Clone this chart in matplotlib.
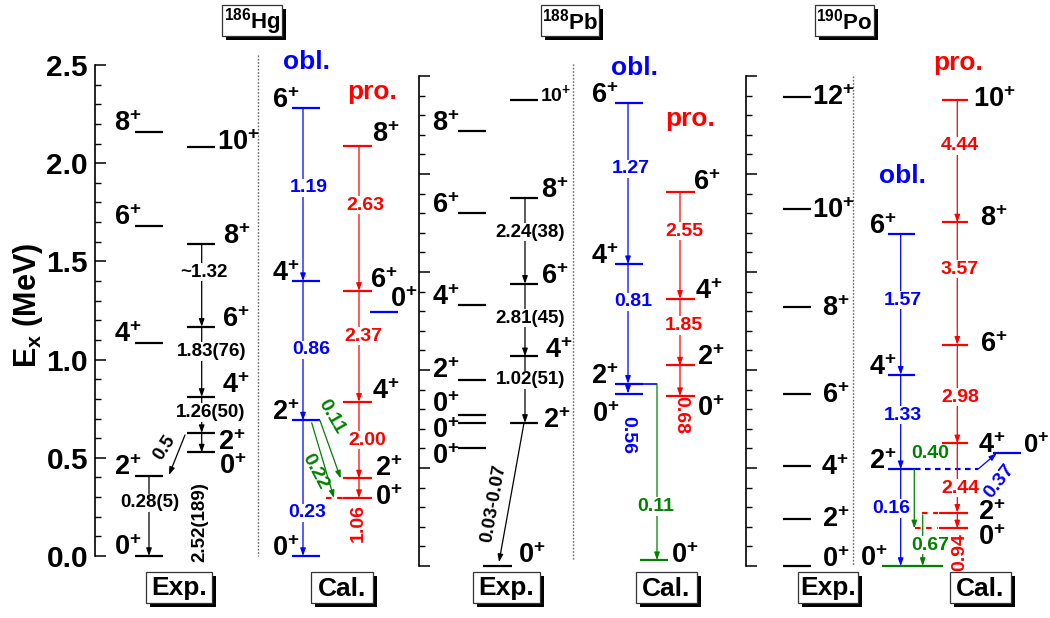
import matplotlib
matplotlib.use('Agg')
import matplotlib.pyplot as plt
from matplotlib.patches import Rectangle

plt.rcParams['font.family'] = ['Liberation Sans', 'DejaVu Sans']
plt.rcParams['font.weight'] = 'bold'
plt.rcParams['mathtext.fontset'] = 'custom'
plt.rcParams['mathtext.rm'] = 'Liberation Sans:bold'
plt.rcParams['mathtext.bf'] = 'Liberation Sans:bold'
plt.rcParams['mathtext.it'] = 'Liberation Sans:bold'

# ---------------- data (energies in MeV) ----------------
ytick_values = [0.0, 0.5, 1.0, 1.5, 2.0, 2.5]
ytick_labels = ['0.0', '0.5', '1.0', '1.5', '2.0', '2.5']

# 186Hg experiment
hg_expA_spin = [0, 2, 4, 6, 8]
hg_expA_E = [0.0, 0.405, 1.085, 1.68, 2.16]
hg_expB_spin = [0, 2, 4, 6, 8, 10]
hg_expB_E = [0.527, 0.626, 0.81, 1.167, 1.59, 2.085]
hg_expA_BE2 = ['0.28(5)']                      # 2 -> 0
hg_expB_BE2 = ['1.26(50)', '1.83(76)', '~1.32']  # 4->2, 6->4, 8->6
hg_inter_BE2 = '0.5'
hg_E0 = '2.52(189)'
# 186Hg calculation
hg_obl_spin = [0, 2, 4, 6]
hg_obl_E = [0.0, 0.69, 1.40, 2.28]
hg_obl_BE2 = ['0.23', '0.86', '1.19']
hg_pro_spin = [0, 2, 4, 6, 8]
hg_pro_E = [0.295, 0.395, 0.785, 1.35, 2.09]
hg_pro_BE2 = ['1.06', '2.00', '2.37', '2.63']
hg_obl0_E = 1.243
hg_cross_BE2 = ['0.11', '0.22']   # obl 2+ -> pro 2+, obl 2+ -> pro 0+

# 188Pb experiment
pb_expA_spin = [8, 6, 4, 2, 0, 0, 0]
pb_expA_E = [2.22, 1.80, 1.33, 0.95, 0.77, 0.73, 0.60]
pb_expB_spin = [0, 2, 4, 6, 8, 10]
pb_expB_E = [0.0, 0.73, 1.07, 1.44, 1.88, 2.38]
pb_expB_BE2 = ['0.03-0.07', '1.02(51)', '2.81(45)', '2.24(38)']
# 188Pb calculation
pb_obl_spin = [0, 2, 4, 6]
pb_obl_E = [0.88, 0.93, 1.54, 2.36]
pb_obl_BE2 = ['0.56', '0.81', '1.27']
pb_pro_spin = [0, 2, 4, 6]
pb_pro_E = [0.867, 1.023, 1.363, 1.908]
pb_pro_BE2 = ['0.68', '1.85', '2.55']
pb_gs_E = 0.03
pb_cross_BE2 = '0.11'

# 190Po experiment
po_exp_spin = [0, 2, 4, 6, 8, 10, 12]
po_exp_E = [0.0, 0.24, 0.51, 0.878, 1.32, 1.82, 2.393]
# 190Po calculation
po_gs_E = 0.0
po_obl_spin = [2, 4, 6]
po_obl_E = [0.494, 0.976, 1.694]
po_obl_BE2 = ['0.16', '1.33', '1.57']
po_pro_spin = [0, 2, 4, 6, 8, 10]
po_pro_E = [0.192, 0.272, 0.626, 1.129, 1.753, 2.378]
po_pro_BE2 = ['0.94', '2.44', '2.98', '3.57', '4.44']
po_obl0_E = 0.575
po_cross_BE2 = ['0.40', '0.67', '0.37']

# ---------------- layout ----------------
W, H = 1050, 618
BLUE, RED, GREEN = '#0000FF', '#FF0000', '#008000'
fig = plt.figure(figsize=(W / 100, H / 100), dpi=100)


def make_axes(xl, xr, y0, yt, labels):
    ax = fig.add_axes([xl / W, (H - y0) / H, (xr - xl) / W, (y0 - yt) / H])
    ax.set_xlim(xl, xr)
    ax.set_ylim(0, 2.5)
    ax.patch.set_alpha(0)
    for s in ['top', 'right', 'bottom']:
        ax.spines[s].set_visible(False)
    ax.spines['left'].set_linewidth(1.2)
    ax.set_xticks([])
    ax.set_yticks(ytick_values)
    ax.set_yticks([v / 10 for v in range(26)], minor=True)
    ax.tick_params(axis='y', which='major', direction='in', length=8, width=1.1, pad=5,
                   labelsize=21.5, labelleft=labels)
    ax.tick_params(axis='y', which='minor', direction='in', length=4, width=1.0)
    if labels:
        ax.set_yticklabels(ytick_labels, fontweight='bold')
    return ax


ax_hg = make_axes(95, 418, 556, 65, True)
ax_pb = make_axes(419, 745, 566, 76, False)
ax_po = make_axes(746, 1050, 566, 76, False)


def level(ax, x0, x1, E, color='k', lw=1.6, ls='-'):
    ax.plot([x0, x1], [E, E], color=color, lw=lw, ls=ls, solid_capstyle='butt', clip_on=False)


def arrow(ax, x0, E0, x1, E1, color='k', lw=0.9):
    ax.annotate('', xy=(x1, E1), xytext=(x0, E0),
                arrowprops=dict(arrowstyle='-|>,head_length=0.45,head_width=0.16', color=color,
                                lw=lw, shrinkA=0, shrinkB=0), annotation_clip=False)


def spin(ax, x, E, J, dx, dy, ha, fs=19.5, color='k'):
    ax.annotate(r'$\mathbf{%d}^{\mathbf{+}}$' % J, xy=(x, E), xytext=(dx, dy),
                textcoords='offset pixels', ha=ha, va='baseline', fontsize=fs, color=color,
                annotation_clip=False)


def tlabel(ax, x, E, s, color='k', fs=14, rot=0, bg=True):
    kw = dict(fc='white', ec='none', pad=0.6) if bg else None
    ax.text(x, E, s, color=color, fontsize=fs, ha='center', va='center', rotation=rot,
            rotation_mode='anchor', bbox=kw, clip_on=False, zorder=5)


def vline_dotted(ax, x, E0, E1):
    ax.plot([x, x], [E0, E1], color='#666666', lw=1.0, ls=(0, (1.2, 1.2)), clip_on=False)


# ======================= 186Hg =======================
ax = ax_hg
vline_dotted(ax, 258, 2.55, 0.0)
# exp band A
for J, E in zip(hg_expA_spin, hg_expA_E):
    level(ax, 135, 163, E)
    spin(ax, 135, E, J, 7, 1, 'right')
arrow(ax, 149, hg_expA_E[1], 149, hg_expA_E[0])
tlabel(ax, 150, 0.27, hg_expA_BE2[0], fs=13.5)
# exp band B
hgB_off = {0: (4, -22), 2: (3, -17), 4: (7, 4), 6: (7, 0), 8: (8, 0), 10: (2, -3)}
for J, E in zip(hg_expB_spin, hg_expB_E):
    level(ax, 187, 215, E)
    dx, dy = hgB_off[J]
    spin(ax, 215, E, J, dx, dy, 'left')
for i in range(4):
    arrow(ax, 201.7, hg_expB_E[i + 1], 201.7, hg_expB_E[i])
tlabel(ax, 211, 0.73, hg_expB_BE2[0], fs=13.5)
tlabel(ax, 212, 1.04, hg_expB_BE2[1], fs=13.5)
tlabel(ax, 204, 1.446, hg_expB_BE2[2], fs=13.5)
arrow(ax, 185, hg_expB_E[1] - 0.01, 169, hg_expA_E[1] + 0.008)
tlabel(ax, 165, 0.55, hg_inter_BE2, fs=13.5, rot=57, bg=False)
tlabel(ax, 200, 0.173, hg_E0, fs=13.5, rot=90, bg=False)
# calc oblate
for J, E in zip(hg_obl_spin, hg_obl_E):
    level(ax, 292, 320, E, BLUE)
    spin(ax, 292, E, J, 8, 0, 'right')
for i in range(3):
    arrow(ax, 303, hg_obl_E[i + 1], 303, hg_obl_E[i], BLUE)
tlabel(ax, 306.7, 0.219, hg_obl_BE2[0], BLUE)
tlabel(ax, 311, 1.049, hg_obl_BE2[1], BLUE)
tlabel(ax, 309, 1.874, hg_obl_BE2[2], BLUE)
# calc prolate
hgP_off = {0: (3, -7), 2: (3, 2), 4: (0, 3), 6: (-2, 3), 8: (0, 4)}
for J, E in zip(hg_pro_spin, hg_pro_E):
    level(ax, 343, 372, E, RED)
    dx, dy = hgP_off[J]
    spin(ax, 372, E, J, dx, dy, 'left')
level(ax, 326, 343, hg_pro_E[0], RED, ls=(0, (2.5, 2.5)))
for i in range(4):
    arrow(ax, 359, hg_pro_E[i + 1], 359, hg_pro_E[i], RED)
tlabel(ax, 358, 0.168, hg_pro_BE2[0], RED, rot=90, bg=False)
tlabel(ax, 367, 0.59, hg_pro_BE2[1], RED)
tlabel(ax, 363, 1.12, hg_pro_BE2[2], RED)
tlabel(ax, 365, 1.787, hg_pro_BE2[3], RED)
level(ax, 370, 398, hg_obl0_E, BLUE)
spin(ax, 390, hg_obl0_E, 0, 0, 5, 'left')
arrow(ax, 320, hg_obl_E[1], 340.7, hg_pro_E[1], GREEN)
arrow(ax, 311.7, hg_obl_E[1] - 0.012, 334, hg_pro_E[0], GREEN)
tlabel(ax, 331, 0.71, hg_cross_BE2[0], GREEN, rot=-60, bg=False)
tlabel(ax, 315, 0.43, hg_cross_BE2[1], GREEN, rot=-62, bg=False)
ax.text(307, 2.515, 'obl.', color=BLUE, fontsize=19, ha='center', va='center', clip_on=False)
ax.text(372, 2.36, 'pro.', color=RED, fontsize=19, ha='center', va='center', clip_on=False)

# ======================= 188Pb =======================
ax = ax_pb
vline_dotted(ax, 573, 2.56, 0.03)
pbA_dy = [0, 0, 0, 2, 3, -15, -16]
for J, E, dy in zip(pb_expA_spin, pb_expA_E, pbA_dy):
    level(ax, 458, 486, E)
    spin(ax, 458, E, J, 2, dy, 'right')
level(ax, 483, 512, pb_expB_E[0])
spin(ax, 512, pb_expB_E[0], 0, 6, 3, 'left')
pbB_off = {2: (5, -5), 4: (7, -2), 6: (3, 0), 8: (3, 0), 10: (2, -1)}
for J, E in zip(pb_expB_spin[1:], pb_expB_E[1:]):
    level(ax, 510, 538, E)
    dx, dy = pbB_off[J]
    spin(ax, 538, E, J, dx, dy, 'left', fs=14 if J == 10 else 19.5)
for i in range(1, 4):
    arrow(ax, 525, pb_expB_E[i + 1], 525, pb_expB_E[i])
arrow(ax, 524, pb_expB_E[1], 499, 0.02)
tlabel(ax, 494, 0.32, pb_expB_BE2[0], fs=13.5, rot=80, bg=False)
tlabel(ax, 531, 0.949, pb_expB_BE2[1], fs=13.5)
tlabel(ax, 530, 1.265, pb_expB_BE2[2], fs=13.5)
tlabel(ax, 530, 1.704, pb_expB_BE2[3], fs=13.5)
# calc oblate
pbO_dy = {0: -28, 2: 0, 4: 0, 6: 0}
for J, E in zip(pb_obl_spin, pb_obl_E):
    level(ax, 615, 643, E, BLUE)
    spin(ax, 615, E, J, 5 if J == 0 else 4, pbO_dy[J], 'right')
for i in range(3):
    arrow(ax, 628, pb_obl_E[i + 1], 628, pb_obl_E[i], BLUE)
tlabel(ax, 628, 0.668, pb_obl_BE2[0], BLUE, rot=270, bg=False)
tlabel(ax, 633, 1.347, pb_obl_BE2[1], BLUE)
tlabel(ax, 631, 2.026, pb_obl_BE2[2], BLUE)
level(ax, 643, 657, pb_obl_E[1], BLUE, lw=1.2)
# calc prolate
pbP_off = {0: (2, -20), 2: (2, 0), 4: (0, 0), 6: (-2, 2)}
for J, E in zip(pb_pro_spin, pb_pro_E):
    level(ax, 666, 695, E, RED)
    dx, dy = pbP_off[J]
    spin(ax, 695, E, J, dx, dy, 'left')
for i in range(3):
    arrow(ax, 680, pb_pro_E[i + 1], 680, pb_pro_E[i], RED)
tlabel(ax, 680.7, 0.77, pb_pro_BE2[0], RED, rot=270, bg=False)
tlabel(ax, 684, 1.227, pb_pro_BE2[1], RED)
tlabel(ax, 684, 1.709, pb_pro_BE2[2], RED)
# ground state + green transition
level(ax, 640, 668, pb_gs_E, GREEN)
spin(ax, 668, pb_gs_E, 0, 3, -3, 'left')
arrow(ax, 657, pb_obl_E[1], 657, pb_gs_E, GREEN)
tlabel(ax, 656, 0.303, pb_cross_BE2, GREEN)
ax.text(635, 2.54, 'obl.', color=BLUE, fontsize=19, ha='center', va='center', clip_on=False)
ax.text(690, 2.28, 'pro.', color=RED, fontsize=19, ha='center', va='center', clip_on=False)

# ======================= 190Po =======================
ax = ax_po
vline_dotted(ax, 853, 2.5, 0.0)
poE_off = {0: (11, -1), 2: (11, -8), 4: (10, -9), 6: (11, -9), 8: (11, -9), 10: (1, -9), 12: (1, -8)}
for J, E in zip(po_exp_spin, po_exp_E):
    level(ax, 783, 811, E)
    dx, dy = poE_off[J]
    spin(ax, 811, E, J, dx, dy, 'left')
# calc oblate
for J, E in zip(po_obl_spin, po_obl_E):
    level(ax, 888, 915, E, BLUE)
    spin(ax, 888, E, J, 9, 0, 'right')
level(ax, 882, 943, po_gs_E, GREEN)
spin(ax, 882, po_gs_E, 0, 6, 0, 'right')
arrow(ax, 900.7, po_obl_E[0], 900.7, po_gs_E, BLUE)
for i in range(2):
    arrow(ax, 900.7, po_obl_E[i + 1], 900.7, po_obl_E[i], BLUE)
tlabel(ax, 891.7, 0.294, po_obl_BE2[0], BLUE)
tlabel(ax, 903, 0.77, po_obl_BE2[1], BLUE)
tlabel(ax, 903, 1.357, po_obl_BE2[2], BLUE)
# calc prolate
poP_off = {0: (10, -17), 2: (10, -7), 4: (10, -10), 6: (12, -7), 8: (12, -4), 10: (5, -7)}
for J, E in zip(po_pro_spin, po_pro_E):
    level(ax, 939 if J in (0, 2) else 942, 968, E, RED)
    dx, dy = poP_off[J]
    spin(ax, 968, E, J, dx, dy, 'left')
level(ax, 921.7, 938, po_pro_E[1], RED, ls=(0, (2.5, 2.5)))
level(ax, 915, 938, po_pro_E[0], RED, ls=(0, (2.5, 2.5)))
for i in range(5):
    arrow(ax, 957.3, po_pro_E[i + 1], 957.3, po_pro_E[i], RED)
tlabel(ax, 960, 0.073, po_pro_BE2[0], RED, rot=90, bg=False)
tlabel(ax, 960, 0.397, po_pro_BE2[1], RED)
tlabel(ax, 960, 0.862, po_pro_BE2[2], RED)
tlabel(ax, 960, 1.515, po_pro_BE2[3], RED)
tlabel(ax, 960, 2.143, po_pro_BE2[4], RED)
# extra oblate 0+ and crossing transitions
level(ax, 915, 978, po_obl_E[0], BLUE, ls=(0, (2.5, 2.0)))
arrow(ax, 978, po_obl_E[0], 996.7, po_obl0_E, BLUE)
level(ax, 993, 1021, po_obl0_E, BLUE)
spin(ax, 1021, po_obl0_E, 0, 2, 0, 'left', fs=18.5)
tlabel(ax, 999, 0.43, po_cross_BE2[2], BLUE, rot=52, bg=False)
arrow(ax, 914.3, po_obl_E[0], 914.3, po_pro_E[0], GREEN)
tlabel(ax, 930, 0.575, po_cross_BE2[0], GREEN, bg=False)
arrow(ax, 922.7, 0.26, 922.7, po_gs_E, GREEN)
tlabel(ax, 930, 0.107, po_cross_BE2[1], GREEN)
ax.text(958, 2.565, 'pro.', color=RED, fontsize=19, ha='center', va='center', clip_on=False)
ax.text(903, 1.99, 'obl.', color=BLUE, fontsize=19, ha='center', va='center', clip_on=False)

# ======================= labels and boxes =======================
fig.text(28 / W, 1 - 305 / H, r'$\mathbf{E}_{\mathbf{x}}$ (MeV)', rotation=90, ha='center',
         va='center', fontsize=22, fontweight='bold')

ov = fig.add_axes([0, 0, 1, 1])
ov.set_xlim(0, W)
ov.set_ylim(H, 0)
ov.axis('off')


def box(x0, y0, x1, y1, text, fs, sh=4):
    ov.add_patch(Rectangle((x0 + sh, y0 + sh), x1 - x0, y1 - y0, fc='black', ec='none', zorder=10))
    ov.add_patch(Rectangle((x0, y0), x1 - x0, y1 - y0, fc='white', ec='#333333', lw=0.9, zorder=11))
    ov.text((x0 + x1) / 2, (y0 + y1) / 2 + 1, text, fontsize=fs, ha='center', va='center', zorder=12)


box(222, 5, 282, 36, r'$^{\mathbf{186}}\mathbf{Hg}$', 16)
box(541, 5, 599, 36, r'$^{\mathbf{188}}\mathbf{Pb}$', 16)
box(815, 5, 874, 36, r'$^{\mathbf{190}}\mathbf{Po}$', 16)
box(146, 572, 212, 603, 'Exp.', 19)
box(311, 572, 373, 603, 'Cal.', 19)
box(473, 572, 540, 603, 'Exp.', 19)
box(636, 572, 697, 603, 'Cal.', 19)
box(798, 572, 858, 603, 'Exp.', 19)
box(950, 572, 1011, 603, 'Cal.', 19)

fig.savefig('out.png', dpi=100)
